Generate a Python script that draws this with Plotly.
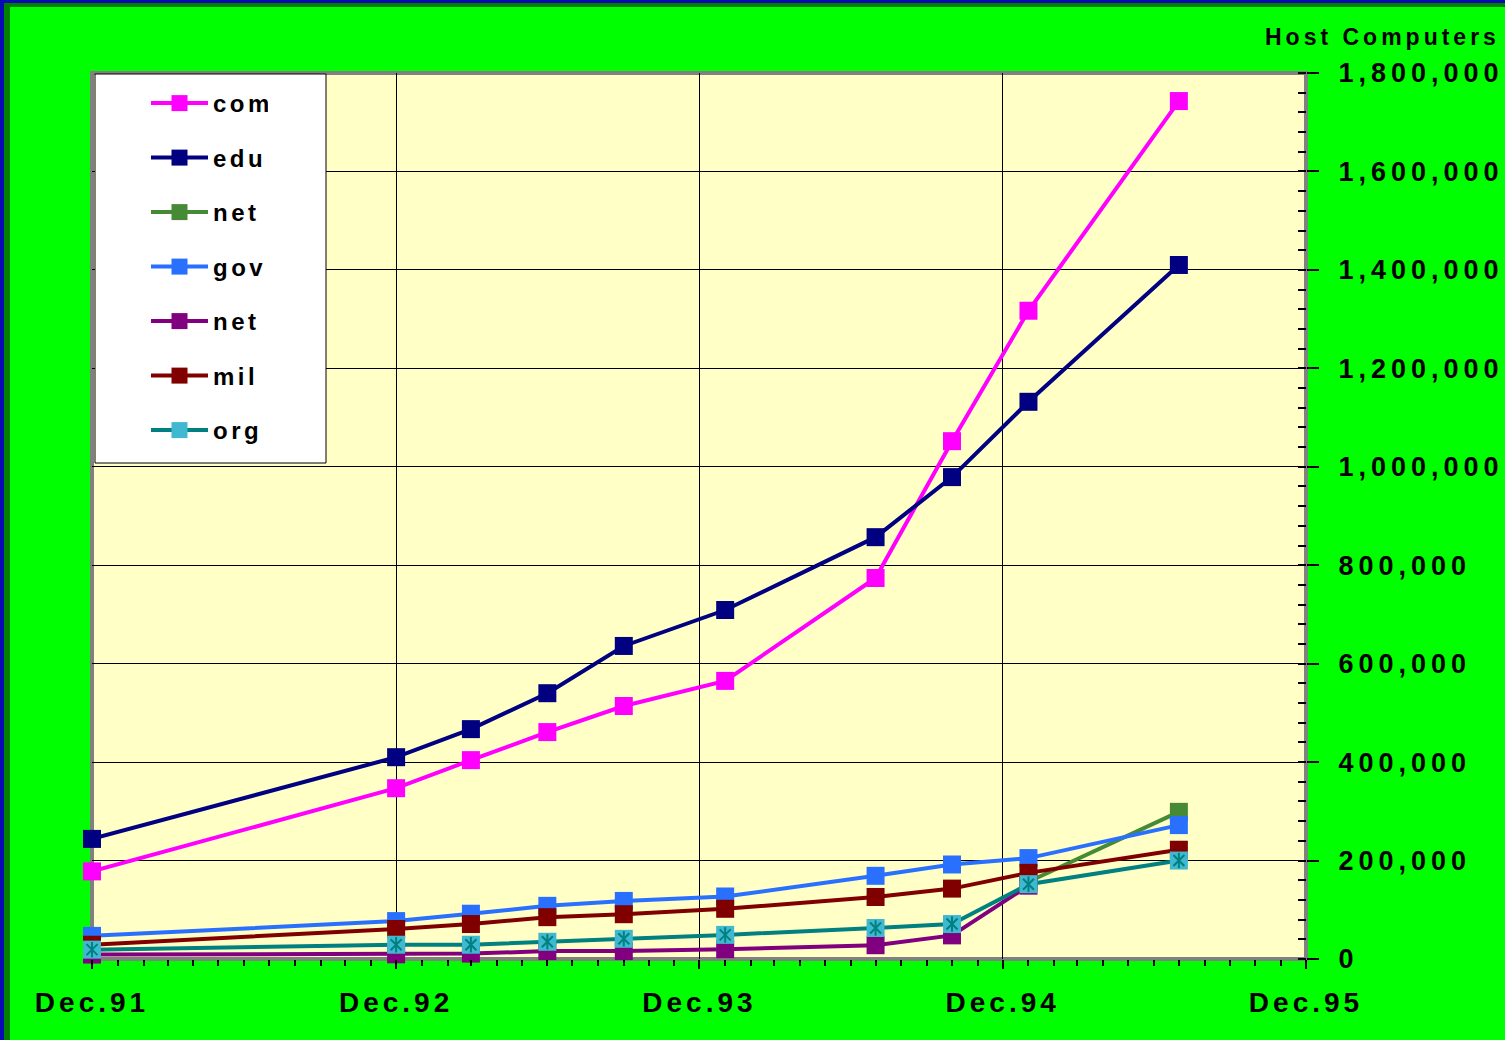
import plotly.graph_objects as go

# ---- data: Internet host counts by top-level domain ----
periods = ["Dec.91", "Dec.92", "Mar.93", "Jun.93", "Sep.93",
           "Jan.94", "Jul.94", "Oct.94", "Jan.95", "Jul.95"]
dates = ["1991-12-01", "1992-12-01", "1993-03-01", "1993-06-01", "1993-09-01",
         "1994-01-01", "1994-07-01", "1994-10-01", "1995-01-01", "1995-07-01"]

com = [178000, 347000, 404000, 461000, 514000, 565000, 774000, 1052000, 1317000, 1743000]
edu = [244000, 410000, 467000, 540000, 636000, 709000, 857000, 979000, 1132000, 1410000]
net_new = [None, None, None, None, None, None, None, None, 157000, 299000]
gov = [47000, 77000, 92000, 108000, 118000, 127000, 169000, 192000, 205000, 272000]
net = [9000, 9500, 11000, 16000, 16000, 20000, 28000, 48000, 149000, None]
mil = [29000, 61000, 71000, 85000, 91000, 102000, 126000, 143000, 175000, 222000]
org = [19000, 29000, 29000, 35000, 41000, 49000, 63000, 71000, 152000, 200000]

year_ticks = ["1991-12-01", "1992-12-01", "1993-12-01", "1994-12-01", "1995-12-01"]
year_labels = ["Dec.91", "Dec.92", "Dec.93", "Dec.94", "Dec.95"]
y_ticks = [0, 200000, 400000, 600000, 800000, 1000000, 1200000, 1400000, 1600000, 1800000]

# ---- canvas geometry ----
W, H = 1505, 1040
L, R, T, B = 92, 199, 73, 81
PW, PH = W - L - R, H - T - B


def px(x):
    return (x - L) / PW


def py(y):
    return (H - B - y) / PH


FONT = "Liberation Sans, Arial, sans-serif"

series = [
    ("com", com, "#FF00FF", "#FF00FF"),
    ("edu", edu, "#000080", "#000080"),
    ("net", net_new, "#468A35", "#468A35"),
    ("gov", gov, "#2970FF", "#2970FF"),
    ("net", net, "#800080", "#800080"),
    ("mil", mil, "#800000", "#800000"),
    ("org", org, "#008080", "#3FB8D0"),
]

fig = go.Figure()
for i, (name, vals, lcol, mcol) in enumerate(series):
    fig.add_trace(go.Scatter(
        x=dates, y=vals, name=name, mode="lines+markers",
        legendgroup=f"g{i}", cliponaxis=False, connectgaps=False,
        line=dict(color=lcol, width=4),
        marker=dict(symbol="square", size=18, color=mcol, line=dict(width=0)),
        customdata=periods,
        hovertemplate="%{customdata}: %{y:,}<extra>" + name + "</extra>",
    ))

# asterisk overlay on the org markers
for sym in ("x-thin-open", "line-ns-open"):
    fig.add_trace(go.Scatter(
        x=dates, y=org, mode="markers", legendgroup="g6", showlegend=False,
        cliponaxis=False, hoverinfo="skip",
        marker=dict(symbol=sym, size=11, color="#008080",
                    line=dict(color="#008080", width=2)),
    ))

shapes = [
    # frame strips along the top and left edges
    dict(type="rect", xref="paper", yref="paper", x0=px(0), x1=px(10), y0=py(H), y1=py(0),
         fillcolor="#007F00", line=dict(width=0), layer="below"),
    dict(type="rect", xref="paper", yref="paper", x0=px(0), x1=px(W), y0=py(7), y1=py(0),
         fillcolor="#007F00", line=dict(width=0), layer="below"),
    dict(type="rect", xref="paper", yref="paper", x0=px(0), x1=px(4), y0=py(H), y1=py(0),
         fillcolor="#0A0AB4", line=dict(width=0), layer="below"),
    dict(type="rect", xref="paper", yref="paper", x0=px(0), x1=px(W), y0=py(3), y1=py(0),
         fillcolor="#0A0AB4", line=dict(width=0), layer="below"),
    # grey plot-area frame
    dict(type="rect", xref="paper", yref="paper", x0=0, x1=1, y0=0, y1=1,
         line=dict(color="#808080", width=4), fillcolor="rgba(0,0,0,0)", layer="between"),
    # legend panel
    dict(type="rect", xref="paper", yref="paper", x0=px(95), x1=px(326), y0=py(463), y1=py(74),
         line=dict(color="#000000", width=1), fillcolor="#FFFFFF", layer="above"),
]

fig.update_layout(
    width=W, height=H,
    margin=dict(l=L, r=R, t=T, b=B, pad=0),
    paper_bgcolor="#00FF00", plot_bgcolor="#FFFFC6",
    font=dict(family=FONT, color="#000000", weight="bold"),
    showlegend=True,
    legend=dict(
        x=px(146), y=py(81), xanchor="left", yanchor="top",
        bgcolor="rgba(0,0,0,0)", borderwidth=0,
        traceorder="grouped", tracegroupgap=20.3, itemwidth=57,
        font=dict(family=FONT, size=24, color="#000000", weight="bold"),
    ),
    xaxis=dict(
        type="date", range=["1991-12-01", "1995-12-01"],
        tickmode="array", tickvals=year_ticks, ticktext=year_labels,
        ticks="outside", ticklen=9, tickwidth=2, tickcolor="#000000",
        tickfont=dict(family=FONT, size=28, color="#000000", weight="bold"),
        ticklabelstandoff=9,
        showgrid=True, gridcolor="#000000", gridwidth=1,
        showline=False, zeroline=False,
        minor=dict(dtick="M1", ticks="outside", ticklen=6, tickwidth=1.5,
                   tickcolor="#000000", showgrid=False),
    ),
    xaxis2=dict(
        type="date", range=["1991-12-01", "1995-12-01"], overlaying="x", anchor="y",
        side="bottom", showticklabels=False, showgrid=False, zeroline=False,
        tickmode="array", tickvals=year_ticks,
        ticks="inside", ticklen=9, tickwidth=2, tickcolor="#000000",
        minor=dict(dtick="M1", ticks="inside", ticklen=6, tickwidth=1.5,
                   tickcolor="#000000", showgrid=False),
    ),
    yaxis=dict(
        side="right", range=[0, 1800000],
        tickmode="array", tickvals=y_ticks, tickformat=",d",
        ticks="outside", ticklen=12, tickwidth=1.5, tickcolor="#000000",
        tickfont=dict(family=FONT, size=27, color="#000000", weight="bold"),
        ticklabelstandoff=14,
        showgrid=True, gridcolor="#000000", gridwidth=1,
        showline=False, zeroline=False,
        minor=dict(dtick=40000, ticks="inside", ticklen=8, tickwidth=1.5,
                   tickcolor="#000000", showgrid=False),
    ),
    shapes=shapes,
    annotations=[dict(
        text="Host Computers", xref="paper", yref="paper",
        x=px(1382), y=py(37), xanchor="center", yanchor="middle", showarrow=False,
        font=dict(family=FONT, size=23, color="#000000", weight="bold"),
    )],
)

# wider tracking for the chart's text
post = """
var s = document.createElement('style');
s.textContent = '.xtick text{letter-spacing:4px}' +
  '.ytick text{letter-spacing:5px}' +
  '.legendtext{letter-spacing:3.5px}' +
  '.annotation-text{letter-spacing:4px}';
document.head.appendChild(s);
"""

fig.write_html("out.html", post_script=post)
